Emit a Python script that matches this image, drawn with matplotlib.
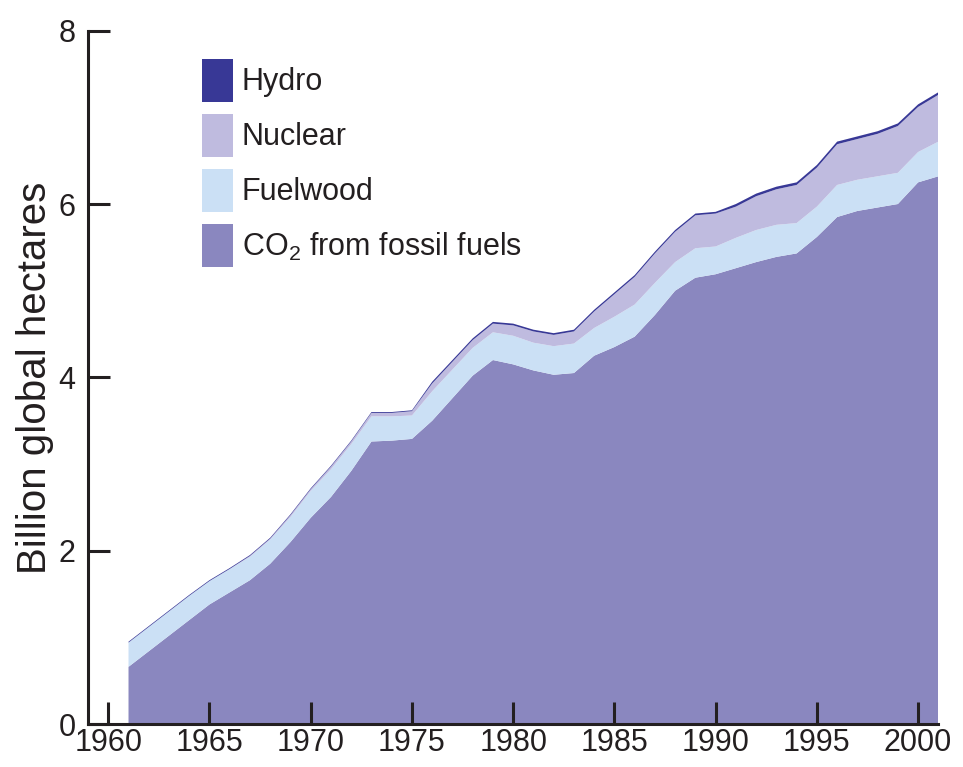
import matplotlib
matplotlib.use('Agg')
import matplotlib.pyplot as plt
from matplotlib.patches import Patch
import numpy as np

plt.rcParams.update({'font.family': ['Liberation Sans', 'DejaVu Sans']})

#%% data (billion global hectares)

years = np.arange(1961, 2002)

co2 = [0.66, 0.84, 1.02, 1.20, 1.38, 1.52, 1.66, 1.85, 2.10, 2.38,
       2.62, 2.92, 3.26, 3.27, 3.29, 3.50, 3.76, 4.02, 4.20, 4.15,
       4.08, 4.03, 4.05, 4.25, 4.35, 4.47, 4.72, 5.00, 5.15, 5.19,
       5.26, 5.33, 5.39, 5.43, 5.62, 5.85, 5.92, 5.96, 6.00, 6.25,
       6.32]

fuelwood = [0.28, 0.28, 0.28, 0.28, 0.27, 0.27, 0.27, 0.28, 0.29, 0.31,
            0.32, 0.31, 0.29, 0.28, 0.27, 0.34, 0.33, 0.32, 0.32, 0.33,
            0.32, 0.33, 0.34, 0.32, 0.35, 0.37, 0.37, 0.33, 0.34, 0.32,
            0.35, 0.37, 0.37, 0.35, 0.35, 0.37, 0.36, 0.36, 0.36, 0.35,
            0.40]

nuclear = [0.00, 0.00, 0.00, 0.00, 0.00, 0.00, 0.01, 0.01, 0.02, 0.02,
           0.03, 0.03, 0.04, 0.04, 0.05, 0.09, 0.09, 0.09, 0.10, 0.12,
           0.13, 0.13, 0.14, 0.19, 0.26, 0.32, 0.34, 0.35, 0.38, 0.38,
           0.36, 0.39, 0.41, 0.44, 0.45, 0.47, 0.47, 0.49, 0.54, 0.52,
           0.54]

hydro = [0.01, 0.01, 0.01, 0.01, 0.01, 0.01, 0.01, 0.01, 0.01, 0.01,
         0.01, 0.01, 0.01, 0.01, 0.01, 0.02, 0.02, 0.02, 0.02, 0.02,
         0.02, 0.02, 0.02, 0.02, 0.02, 0.02, 0.02, 0.02, 0.02, 0.02,
         0.03, 0.03, 0.03, 0.03, 0.03, 0.03, 0.03, 0.03, 0.03, 0.03,
         0.03]

labels = ['Hydro', 'Nuclear', 'Fuelwood', 'CO$_{\\mathregular{2}}$ from fossil fuels']
colors = ['#383896', '#bfbbdf', '#cbe0f5', '#8a87bf']

xticks = np.arange(1960, 2001, 5)
yticks = [0, 2, 4, 6, 8]

#%% plot

fig = plt.figure(figsize=(9.63, 7.67), dpi=100)
ax = fig.add_axes([0.0914, 0.056, 0.883, 0.904])

# stack from the bottom: CO2, fuelwood, nuclear, hydro
ax.stackplot(years, co2, fuelwood, nuclear, hydro,
             colors=[colors[3], colors[2], colors[1], colors[0]], lw=0)

ax.set_xlim(1959, 2001)
ax.set_ylim(0, 8)
ax.set_xticks(xticks)
ax.set_yticks(yticks)

for s in ['top', 'right']:
    ax.spines[s].set_visible(False)
for s in ['left', 'bottom']:
    ax.spines[s].set_linewidth(2.2)
    ax.spines[s].set_color('#231f20')
    ax.spines[s].set_zorder(5)

ax.tick_params(direction='in', length=16, width=2.2, color='#231f20',
               labelsize=22, labelcolor='#231f20', pad=9)
ax.tick_params(axis='x', pad=3)
for t in ax.get_xticklines() + ax.get_yticklines():
    t.set_zorder(6)

ax.set_ylabel('Billion global hectares', fontsize=29, color='#231f20')
ax.yaxis.set_label_coords(-0.04, 0.5)

handles = [Patch(facecolor=c, edgecolor='none') for c in colors]
leg = ax.legend(handles, labels, loc='upper left',
                bbox_to_anchor=(0.2098, 0.923), bbox_transform=fig.transFigure,
                frameon=False, fontsize=22, borderpad=0, borderaxespad=0,
                handlelength=1.0, handleheight=1.78, handletextpad=0.3,
                labelspacing=0.4)
for t in leg.get_texts():
    t.set_color('#231f20')

plt.savefig('out.png', dpi=100)
